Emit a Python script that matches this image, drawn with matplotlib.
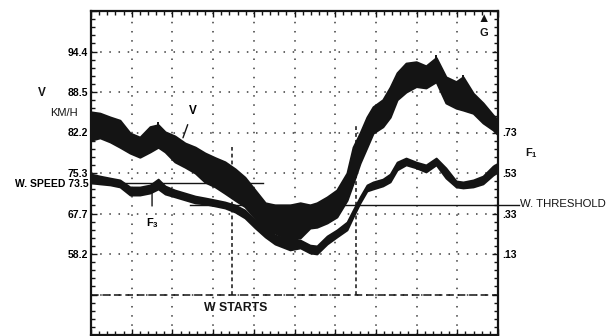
import numpy as np
import matplotlib
matplotlib.use("Agg")
import matplotlib.pyplot as plt
from matplotlib.ticker import FixedLocator, NullLocator, NullFormatter

# ---------------- data ----------------
# time in screen divisions (0..10)
time_div = [0.00, 0.22, 0.47, 0.71, 0.96, 1.20, 1.45, 1.65, 1.82, 2.06,
            2.31, 2.56, 2.80, 3.05, 3.29, 3.54, 3.78, 4.03, 4.28, 4.52,
            4.89, 5.14, 5.38, 5.55, 5.80, 6.04, 6.29, 6.44, 6.61, 6.78,
            6.93, 7.17, 7.35, 7.52, 7.74, 7.99, 8.23, 8.48, 8.72, 8.97,
            9.14, 9.39, 9.63, 9.88, 10.00]

# vehicle speed V (km/h): upper and lower edge of the noisy trace
v_upper = [85.4, 85.2, 84.6, 84.1, 82.1, 81.4, 83.1, 83.4, 82.3, 81.6,
           80.4, 79.7, 78.7, 77.9, 77.2, 76.0, 74.5, 72.1, 69.7, 69.3,
           69.3, 69.7, 69.3, 69.7, 70.8, 72.1, 75.3, 79.7, 82.1, 84.6,
           86.2, 87.3, 89.2, 91.3, 92.7, 92.9, 92.3, 93.5, 90.7, 90.0,
           90.7, 88.3, 86.8, 84.9, 84.1]
v_lower = [80.9, 81.3, 80.6, 79.7, 78.7, 78.0, 78.9, 79.7, 78.9, 77.2,
           76.3, 75.3, 73.6, 72.7, 71.5, 70.2, 69.0, 66.6, 63.8, 63.1,
           61.5, 62.0, 64.3, 64.5, 65.5, 66.9, 70.2, 73.4, 77.0, 79.7,
           82.1, 83.1, 84.6, 87.3, 88.5, 89.3, 89.1, 90.0, 86.8, 86.0,
           85.7, 85.2, 83.7, 82.6, 81.8]

# spikes on the V trace
spike_t = [0.00, 1.65, 8.48, 9.14]
spike_v = [87.3, 83.9, 93.9, 91.0]

# F1 signal: upper and lower edge of the trace
f_upper = [0.525, 0.515, 0.505, 0.496, 0.461, 0.461, 0.471, 0.500, 0.466, 0.446,
           0.431, 0.416, 0.407, 0.397, 0.387, 0.372, 0.347, 0.298, 0.259, 0.224,
           0.199, 0.199, 0.174, 0.170, 0.219, 0.249, 0.288, 0.347, 0.412, 0.471,
           0.486, 0.500, 0.525, 0.584, 0.604, 0.584, 0.570, 0.604, 0.555, 0.491,
           0.486, 0.496, 0.515, 0.565, 0.579]
f_lower = [0.481, 0.476, 0.471, 0.461, 0.421, 0.421, 0.431, 0.451, 0.426, 0.412,
           0.397, 0.382, 0.377, 0.367, 0.357, 0.337, 0.308, 0.259, 0.214, 0.179,
           0.150, 0.160, 0.135, 0.130, 0.179, 0.214, 0.249, 0.313, 0.382, 0.441,
           0.451, 0.466, 0.486, 0.545, 0.570, 0.555, 0.535, 0.570, 0.505, 0.461,
           0.456, 0.461, 0.476, 0.520, 0.535]

# scales / ticks
v_scale_kmh = [34.0, 47.0, 58.2, 67.7, 75.3, 82.2, 88.5, 94.4, 100.3]
f_grid = [-0.27, -0.07, 0.13, 0.33, 0.53, 0.73, 0.93, 1.13, 1.33]
f_tick_labels = ["", "", ".13", ".33", ".53", ".73", "", "", ""]
v_tick_values = [94.4, 88.5, 82.2, 75.3, 73.5, 67.7, 58.2]
v_tick_labels = ["94.4", "88.5", "82.2", "75.3", "W. SPEED 73.5", "67.7", "58.2"]

w_speed = 73.5
w_speed_end = 4.23
w_threshold = 0.372
w_threshold_span = [2.43, 10.52]
w_starts_level = -0.07
marker_t = [3.46, 6.51]
marker_top = [0.658, 0.767]

# ---------------- figure ----------------
W, H = 612, 336
fig = plt.figure(figsize=(W / 100, H / 100), dpi=100)
fig.patch.set_facecolor("white")
ax = fig.add_axes([91 / W, 1 - 335 / H, 407 / W, 324 / H])
ax2 = ax.twinx()
ink = "#141414"
FONT = ["Liberation Sans", "DejaVu Sans"]

ax.set_xlim(0, 10)
ax.set_ylim(f_grid[0], f_grid[-1])

# graticule
ax.xaxis.set_major_locator(FixedLocator(np.arange(0, 10.01, 1)))
ax.xaxis.set_minor_locator(FixedLocator(np.arange(0, 10.01, 0.2)))
ax.yaxis.set_major_locator(FixedLocator(f_grid))
ax.yaxis.set_minor_locator(FixedLocator(np.arange(f_grid[0], f_grid[-1] + 0.001, 0.04)))
ax.set_yticklabels(f_tick_labels)
ax.xaxis.set_major_formatter(NullFormatter())
ax.tick_params(which="both", direction="in", left=True, right=True, top=True,
               bottom=True, labelleft=False, labelright=True, labelbottom=False,
               color=ink, width=1.0)
ax.tick_params(which="major", length=4)
ax.tick_params(which="minor", length=2.6)
ax.tick_params(axis="y", which="major", pad=3, labelsize=7.5)
for lab in ax.get_yticklabels():
    lab.set_fontfamily(FONT)
    lab.set_fontweight("bold")
for s in ax.spines.values():
    s.set_linewidth(1.6)
    s.set_color(ink)
ax.grid(True, which="major", color="#3a3a3a", linestyle=(0, (1, 5)), linewidth=1.1)

# F trace
ax.fill_between(time_div, f_lower, f_upper, color=ink, linewidth=1.3,
                edgecolor=ink, zorder=3)

# threshold line, W starts dashed line, marker dashed lines
ax.plot(w_threshold_span, [w_threshold, w_threshold], color=ink, lw=1.0,
        clip_on=False, zorder=2.5)
ax.axhline(w_starts_level, color=ink, lw=1.1, linestyle=(0, (5, 2.5)), zorder=2.5)
for t, top in zip(marker_t, marker_top):
    ax.plot([t, t], [w_starts_level, top], color=ink, lw=1.1,
            linestyle=(0, (2.5, 2)), zorder=2.5)

# V axis with its non-linear scale
def fwd(v):
    return np.interp(v, v_scale_kmh, f_grid)

def inv(f):
    return np.interp(f, f_grid, v_scale_kmh)

ax2.set_yscale("function", functions=(fwd, inv))
ax2.set_ylim(v_scale_kmh[0], v_scale_kmh[-1])
ax2.yaxis.set_major_locator(FixedLocator(v_tick_values))
ax2.yaxis.set_minor_locator(NullLocator())
ax2.set_yticklabels(v_tick_labels)
ax2.tick_params(axis="y", which="both", length=0, left=False, right=False,
                labelleft=True, labelright=False, pad=2, labelsize=7.5)
for lab in ax2.get_yticklabels():
    lab.set_fontfamily(FONT)
    lab.set_fontweight("bold")
for s in ax2.spines.values():
    s.set_visible(False)

ax2.fill_between(time_div, v_lower, v_upper, color=ink, linewidth=1.5,
                 edgecolor=ink, zorder=3)
spike_base = np.interp(spike_t, time_div, v_upper)
ax2.vlines(spike_t, spike_base, spike_v, color=ink, lw=1.4, zorder=3)
ax2.plot([0, w_speed_end], [w_speed, w_speed], color=ink, lw=1.0, zorder=2.5)

# pointers
ax2.annotate("V", xy=(2.26, 81.3), xytext=(2.5, 85.6), ha="center", va="center",
             fontsize=8.5, family=FONT, fontweight="bold",
             arrowprops=dict(arrowstyle="-", color=ink, lw=1.0, shrinkA=4, shrinkB=0))
ax.annotate(r"F$_\mathregular{3}$", xy=(1.50, 0.431), xytext=(1.50, 0.285),
            ha="center", va="center", fontsize=8, family=FONT, fontweight="bold",
            arrowprops=dict(arrowstyle="-", color=ink, lw=1.0, shrinkA=5, shrinkB=0))

# free texts (figure pixel positions)
def ftext(x, y, s, **kw):
    fig.text(x / W, 1 - y / H, s, family=FONT, color=ink, **kw)

ftext(42, 93, "V", fontsize=8.5, ha="center", va="center", fontweight="bold")
ftext(64, 113, "KM/H", fontsize=8, ha="center", va="center")
ftext(531, 153, r"F$_\mathregular{1}$", fontsize=8, ha="center", va="center",
      fontweight="bold")
ftext(520, 204, "W. THRESHOLD", fontsize=8.2, ha="left", va="center")
ftext(236, 308, "W STARTS", fontsize=8.8, ha="center", va="center",
      fontweight="bold")
ftext(484, 19, "\u25B2", fontsize=9, ha="center", va="center")
ftext(484, 33, "G", fontsize=8, ha="center", va="center", fontweight="bold")

fig.savefig("out.png", dpi=100, facecolor="white")
